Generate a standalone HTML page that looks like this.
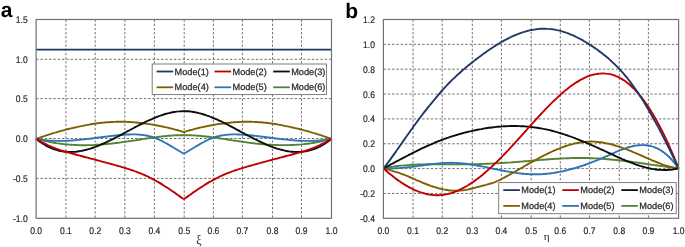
<!DOCTYPE html>
<html><head><meta charset="utf-8"><style>
html,body{margin:0;padding:0;background:#fff;}
body{width:685px;height:247px;overflow:hidden;}
svg{display:block;will-change:transform;}
.t{font-family:"Liberation Sans",sans-serif;font-size:9px;fill:#262626;stroke:#262626;stroke-width:0.2px;}
.tk{font-size:9.6px;text-rendering:geometricPrecision;stroke-width:0.18px;}
.lt{fill:#2a2a2a;stroke:#2a2a2a;font-size:9.2px;text-rendering:geometricPrecision;stroke-width:0.25px;}
.g{stroke:#6a6a6a;stroke-width:0.95;fill:none;}
.ax{stroke:#707070;stroke-width:1.2;fill:none;}
.lg{stroke:#707070;stroke-width:0.9;fill:#fff;}
.pl{font-family:"Liberation Sans",sans-serif;font-weight:bold;font-size:21px;fill:#000;text-rendering:geometricPrecision;}
.gr{font-family:"Liberation Serif",serif;font-size:12px;fill:#1a1a1a;}
.gr2{font-family:"Liberation Serif",serif;font-size:11.2px;fill:#1a1a1a;}
</style></head><body>
<svg width="685" height="247" viewBox="0 0 685 247">
<rect width="685" height="247" fill="#fff"/>
<text x="0.7" y="17.2" class="pl">a</text>
<text x="345.3" y="17.5" class="pl">b</text>
<line x1="36.10" y1="59.34" x2="331.50" y2="59.34" class="g" stroke-dasharray="2.50 1.807"/>
<line x1="36.10" y1="98.60" x2="331.50" y2="98.60" class="g" stroke-dasharray="2.50 1.807"/>
<line x1="36.10" y1="138.50" x2="331.50" y2="138.50" class="g" stroke-dasharray="2.50 1.807"/>
<line x1="36.10" y1="178.40" x2="331.50" y2="178.40" class="g" stroke-dasharray="2.50 1.807"/>
<line x1="65.90" y1="19.50" x2="65.90" y2="218.30" class="g" stroke-dasharray="2.30 1.868"/>
<line x1="95.20" y1="19.50" x2="95.20" y2="218.30" class="g" stroke-dasharray="2.30 1.868"/>
<line x1="124.85" y1="19.50" x2="124.85" y2="218.30" class="g" stroke-dasharray="2.30 1.868"/>
<line x1="154.40" y1="19.50" x2="154.40" y2="218.30" class="g" stroke-dasharray="2.30 1.868"/>
<line x1="184.20" y1="19.50" x2="184.20" y2="218.30" class="g" stroke-dasharray="2.30 1.868"/>
<line x1="213.40" y1="19.50" x2="213.40" y2="218.30" class="g" stroke-dasharray="2.30 1.868"/>
<line x1="242.40" y1="19.50" x2="242.40" y2="218.30" class="g" stroke-dasharray="2.30 1.868"/>
<line x1="272.50" y1="19.50" x2="272.50" y2="218.30" class="g" stroke-dasharray="2.30 1.868"/>
<line x1="301.50" y1="19.50" x2="301.50" y2="218.30" class="g" stroke-dasharray="2.30 1.868"/>
<path d="M36.10 49.6L331.50 49.6" stroke="#203864" stroke-width="1.90" fill="none" stroke-linejoin="round"/>
<path d="M36.1 138.7C36.5 138.9 37.8 139.2 38.6 139.4C39.4 139.6 40.3 139.9 41.1 140.1C41.9 140.3 42.8 140.5 43.6 140.7C44.4 140.8 45.3 141.0 46.1 141.2C46.9 141.4 47.8 141.6 48.6 141.7C49.5 141.9 50.3 142.1 51.1 142.2C52.0 142.4 52.8 142.5 53.6 142.7C54.5 142.8 55.3 142.9 56.1 143.1C57.0 143.2 57.8 143.3 58.6 143.4C59.5 143.6 60.3 143.7 61.1 143.8C62.0 143.9 62.8 144.0 63.6 144.1C64.5 144.2 65.3 144.2 66.1 144.3C67.0 144.4 67.8 144.5 68.6 144.6C69.5 144.6 70.3 144.7 71.1 144.7C72.0 144.8 72.8 144.9 73.7 144.9C74.5 144.9 75.3 145.0 76.2 145.0C77.0 145.1 77.8 145.1 78.7 145.1C79.5 145.1 80.3 145.1 81.2 145.2C82.0 145.2 82.8 145.2 83.7 145.2C84.5 145.2 85.3 145.2 86.2 145.2C87.0 145.2 87.8 145.1 88.7 145.1C89.5 145.1 90.3 145.1 91.2 145.1C92.0 145.0 92.8 145.0 93.7 145.0C94.5 144.9 95.3 144.9 96.2 144.8C97.0 144.8 97.9 144.7 98.7 144.7C99.5 144.6 100.4 144.6 101.2 144.5C102.0 144.4 102.9 144.4 103.7 144.3C104.5 144.2 105.4 144.2 106.2 144.1C107.0 144.0 107.9 143.9 108.7 143.8C109.5 143.8 110.4 143.7 111.2 143.6C112.0 143.5 112.9 143.4 113.7 143.3C114.5 143.2 115.4 143.1 116.2 143.0C117.0 142.9 117.9 142.8 118.7 142.7C119.5 142.5 120.4 142.4 121.2 142.3C122.0 142.2 122.9 142.1 123.7 142.0C124.6 141.8 125.4 141.7 126.2 141.6C127.1 141.5 127.9 141.4 128.7 141.2C129.6 141.1 130.4 141.0 131.2 140.8C132.1 140.7 132.9 140.6 133.7 140.5C134.6 140.3 135.4 140.2 136.2 140.1C137.1 139.9 137.9 139.8 138.7 139.7C139.6 139.6 140.4 139.4 141.2 139.3C142.1 139.2 142.9 139.0 143.7 138.9C144.6 138.8 145.4 138.7 146.2 138.5C147.1 138.4 147.9 138.3 148.8 138.2C149.6 138.1 150.4 137.9 151.3 137.8C152.1 137.7 152.9 137.6 153.8 137.5C154.6 137.4 155.4 137.3 156.3 137.1C157.1 137.0 157.9 136.9 158.8 136.8C159.6 136.7 160.4 136.6 161.3 136.5C162.1 136.4 162.9 136.4 163.8 136.3C164.6 136.2 165.4 136.1 166.3 136.0C167.1 135.9 167.9 135.9 168.8 135.8C169.6 135.7 170.4 135.7 171.3 135.6C172.1 135.5 173.0 135.5 173.8 135.4C174.6 135.4 175.5 135.4 176.3 135.3C177.1 135.3 178.0 135.2 178.8 135.2C179.6 135.2 180.5 135.2 181.3 135.2C182.1 135.1 183.0 135.1 183.8 135.1C184.6 135.1 185.5 135.1 186.3 135.2C187.1 135.2 188.0 135.2 188.8 135.2C189.6 135.2 190.5 135.3 191.3 135.3C192.1 135.3 193.0 135.4 193.8 135.4C194.6 135.5 195.5 135.5 196.3 135.6C197.2 135.7 198.0 135.7 198.8 135.8C199.7 135.9 200.5 135.9 201.3 136.0C202.2 136.1 203.0 136.2 203.8 136.3C204.7 136.4 205.5 136.4 206.3 136.5C207.2 136.6 208.0 136.7 208.8 136.8C209.7 136.9 210.5 137.0 211.3 137.1C212.2 137.3 213.0 137.4 213.8 137.5C214.7 137.6 215.5 137.7 216.3 137.8C217.2 137.9 218.0 138.1 218.8 138.2C219.7 138.3 220.5 138.4 221.4 138.6C222.2 138.7 223.0 138.8 223.9 138.9C224.7 139.1 225.5 139.2 226.4 139.3C227.2 139.4 228.0 139.6 228.9 139.7C229.7 139.8 230.5 140.0 231.4 140.1C232.2 140.2 233.0 140.3 233.9 140.5C234.7 140.6 235.5 140.7 236.4 140.9C237.2 141.0 238.0 141.1 238.9 141.2C239.7 141.4 240.5 141.5 241.4 141.6C242.2 141.7 243.0 141.8 243.9 142.0C244.7 142.1 245.6 142.2 246.4 142.3C247.2 142.4 248.1 142.5 248.9 142.7C249.7 142.8 250.6 142.9 251.4 143.0C252.2 143.1 253.1 143.2 253.9 143.3C254.7 143.4 255.6 143.5 256.4 143.6C257.2 143.7 258.1 143.7 258.9 143.8C259.7 143.9 260.6 144.0 261.4 144.1C262.2 144.1 263.1 144.2 263.9 144.3C264.7 144.4 265.6 144.4 266.4 144.5C267.2 144.5 268.1 144.6 268.9 144.7C269.7 144.7 270.6 144.8 271.4 144.8C272.3 144.8 273.1 144.9 273.9 144.9C274.8 145.0 275.6 145.0 276.4 145.0C277.3 145.1 278.1 145.1 278.9 145.1C279.8 145.1 280.6 145.1 281.4 145.1C282.3 145.1 283.1 145.1 283.9 145.1C284.8 145.1 285.6 145.1 286.4 145.1C287.3 145.1 288.1 145.1 288.9 145.1C289.8 145.1 290.6 145.0 291.4 145.0C292.3 145.0 293.1 144.9 293.9 144.9C294.8 144.9 295.6 144.8 296.5 144.7C297.3 144.7 298.1 144.6 299.0 144.6C299.8 144.5 300.6 144.4 301.5 144.4C302.3 144.3 303.1 144.2 304.0 144.1C304.8 144.0 305.6 143.9 306.5 143.8C307.3 143.7 308.1 143.6 309.0 143.5C309.8 143.4 310.6 143.3 311.5 143.1C312.3 143.0 313.1 142.9 314.0 142.7C314.8 142.6 315.6 142.4 316.5 142.3C317.3 142.1 318.1 142.0 319.0 141.8C319.8 141.6 320.7 141.5 321.5 141.3C322.3 141.1 323.2 140.9 324.0 140.7C324.8 140.5 325.7 140.3 326.5 140.1C327.3 139.9 328.2 139.7 329.0 139.4C329.8 139.2 331.1 138.9 331.5 138.7" stroke="#548235" stroke-width="1.90" fill="none" stroke-linejoin="round"/>
<path d="M36.1 138.8C36.5 138.8 37.8 139.1 38.6 139.2C39.4 139.4 40.3 139.5 41.1 139.6C41.9 139.8 42.8 139.9 43.6 140.0C44.4 140.1 45.3 140.2 46.1 140.3C46.9 140.4 47.8 140.5 48.6 140.5C49.5 140.6 50.3 140.6 51.1 140.7C52.0 140.8 52.8 140.8 53.6 140.8C54.5 140.9 55.3 140.9 56.1 140.9C57.0 140.9 57.8 140.9 58.6 140.9C59.5 140.9 60.3 140.9 61.1 140.9C62.0 140.9 62.8 140.9 63.6 140.9C64.5 140.9 65.3 140.8 66.1 140.8C67.0 140.8 67.8 140.7 68.6 140.7C69.5 140.6 70.3 140.6 71.1 140.5C72.0 140.5 72.8 140.4 73.7 140.3C74.5 140.3 75.3 140.2 76.2 140.1C77.0 140.1 77.8 140.0 78.7 139.9C79.5 139.8 80.3 139.7 81.2 139.6C82.0 139.6 82.8 139.5 83.7 139.4C84.5 139.3 85.3 139.2 86.2 139.1C87.0 139.0 87.8 138.9 88.7 138.8C89.5 138.7 90.3 138.6 91.2 138.5C92.0 138.4 92.8 138.3 93.7 138.2C94.5 138.1 95.3 137.9 96.2 137.8C97.0 137.7 97.9 137.6 98.7 137.5C99.5 137.4 100.4 137.3 101.2 137.2C102.0 137.1 102.9 137.0 103.7 136.9C104.5 136.8 105.4 136.7 106.2 136.6C107.0 136.5 107.9 136.4 108.7 136.3C109.5 136.2 110.4 136.1 111.2 136.0C112.0 135.9 112.9 135.8 113.7 135.7C114.5 135.6 115.4 135.5 116.2 135.4C117.0 135.3 117.9 135.3 118.7 135.2C119.5 135.1 120.4 135.0 121.2 135.0C122.0 134.9 122.9 134.8 123.7 134.8C124.6 134.7 125.4 134.7 126.2 134.6C127.1 134.6 127.9 134.5 128.7 134.5C129.6 134.5 130.4 134.4 131.2 134.4C132.1 134.4 132.9 134.4 133.7 134.4C134.6 134.4 135.4 134.4 136.2 134.4C137.1 134.5 137.9 134.5 138.7 134.6C139.6 134.6 140.4 134.7 141.2 134.8C142.1 134.9 142.9 135.0 143.7 135.1C144.6 135.2 145.4 135.4 146.2 135.5C147.1 135.7 147.9 135.9 148.8 136.1C149.6 136.3 150.4 136.5 151.3 136.7C152.1 137.0 152.9 137.3 153.8 137.5C154.6 137.8 155.4 138.2 156.3 138.5C157.1 138.8 157.9 139.2 158.8 139.5C159.6 139.9 160.4 140.3 161.3 140.7C162.1 141.1 162.9 141.5 163.8 142.0C164.6 142.4 165.4 142.9 166.3 143.3C167.1 143.8 167.9 144.3 168.8 144.8C169.6 145.3 170.4 145.8 171.3 146.3C172.1 146.8 173.0 147.3 173.8 147.8C174.6 148.3 175.5 148.8 176.3 149.3C177.1 149.8 178.0 150.3 178.8 150.8C179.6 151.3 180.5 151.8 181.3 152.3C182.1 152.8 183.4 153.5 183.8 153.7 M183.8 153.7C184.2 153.5 185.5 152.8 186.3 152.3C187.1 151.8 188.0 151.3 188.8 150.8C189.6 150.3 190.5 149.8 191.3 149.3C192.1 148.8 193.0 148.3 193.8 147.8C194.6 147.3 195.5 146.8 196.3 146.3C197.2 145.8 198.0 145.3 198.8 144.8C199.7 144.3 200.5 143.8 201.3 143.3C202.2 142.9 203.0 142.4 203.8 142.0C204.7 141.5 205.5 141.1 206.3 140.7C207.2 140.3 208.0 139.9 208.8 139.5C209.7 139.2 210.5 138.8 211.3 138.5C212.2 138.2 213.0 137.8 213.8 137.5C214.7 137.3 215.5 137.0 216.3 136.7C217.2 136.5 218.0 136.3 218.8 136.1C219.7 135.9 220.5 135.7 221.4 135.5C222.2 135.4 223.0 135.2 223.9 135.1C224.7 135.0 225.5 134.9 226.4 134.8C227.2 134.7 228.0 134.6 228.9 134.6C229.7 134.5 230.5 134.5 231.4 134.4C232.2 134.4 233.0 134.4 233.9 134.4C234.7 134.4 235.5 134.4 236.4 134.4C237.2 134.4 238.0 134.5 238.9 134.5C239.7 134.5 240.5 134.6 241.4 134.6C242.2 134.7 243.0 134.7 243.9 134.8C244.7 134.8 245.6 134.9 246.4 135.0C247.2 135.0 248.1 135.1 248.9 135.2C249.7 135.3 250.6 135.3 251.4 135.4C252.2 135.5 253.1 135.6 253.9 135.7C254.7 135.8 255.6 135.9 256.4 136.0C257.2 136.1 258.1 136.2 258.9 136.3C259.7 136.4 260.6 136.5 261.4 136.6C262.2 136.7 263.1 136.8 263.9 136.9C264.7 137.0 265.6 137.1 266.4 137.2C267.2 137.3 268.1 137.4 268.9 137.5C269.7 137.6 270.6 137.7 271.4 137.8C272.3 137.9 273.1 138.1 273.9 138.2C274.8 138.3 275.6 138.4 276.4 138.5C277.3 138.6 278.1 138.7 278.9 138.8C279.8 138.9 280.6 139.0 281.4 139.1C282.3 139.2 283.1 139.3 283.9 139.4C284.8 139.5 285.6 139.6 286.4 139.6C287.3 139.7 288.1 139.8 288.9 139.9C289.8 140.0 290.6 140.1 291.4 140.1C292.3 140.2 293.1 140.3 293.9 140.3C294.8 140.4 295.6 140.5 296.5 140.5C297.3 140.6 298.1 140.6 299.0 140.7C299.8 140.7 300.6 140.8 301.5 140.8C302.3 140.8 303.1 140.9 304.0 140.9C304.8 140.9 305.6 140.9 306.5 140.9C307.3 140.9 308.1 140.9 309.0 140.9C309.8 140.9 310.6 140.9 311.5 140.9C312.3 140.9 313.1 140.9 314.0 140.8C314.8 140.8 315.6 140.8 316.5 140.7C317.3 140.6 318.1 140.6 319.0 140.5C319.8 140.5 320.7 140.4 321.5 140.3C322.3 140.2 323.2 140.1 324.0 140.0C324.8 139.9 325.7 139.8 326.5 139.6C327.3 139.5 328.2 139.4 329.0 139.2C329.8 139.1 331.1 138.8 331.5 138.8" stroke="#2E75B6" stroke-width="1.90" fill="none" stroke-linejoin="round"/>
<path d="M36.1 138.9C36.5 138.7 37.8 138.3 38.6 138.0C39.4 137.7 40.3 137.4 41.1 137.1C41.9 136.8 42.8 136.5 43.6 136.3C44.4 136.0 45.3 135.7 46.1 135.4C46.9 135.2 47.8 134.9 48.6 134.6C49.5 134.4 50.3 134.1 51.1 133.8C52.0 133.6 52.8 133.3 53.6 133.1C54.5 132.8 55.3 132.6 56.1 132.4C57.0 132.1 57.8 131.9 58.6 131.6C59.5 131.4 60.3 131.2 61.1 130.9C62.0 130.7 62.8 130.5 63.6 130.3C64.5 130.1 65.3 129.8 66.1 129.6C67.0 129.4 67.8 129.2 68.6 129.0C69.5 128.8 70.3 128.6 71.1 128.4C72.0 128.2 72.8 128.0 73.7 127.8C74.5 127.6 75.3 127.4 76.2 127.2C77.0 127.0 77.8 126.8 78.7 126.6C79.5 126.4 80.3 126.3 81.2 126.1C82.0 125.9 82.8 125.8 83.7 125.6C84.5 125.4 85.3 125.3 86.2 125.1C87.0 125.0 87.8 124.8 88.7 124.7C89.5 124.5 90.3 124.4 91.2 124.2C92.0 124.1 92.8 124.0 93.7 123.8C94.5 123.7 95.3 123.6 96.2 123.5C97.0 123.4 97.9 123.2 98.7 123.1C99.5 123.0 100.4 122.9 101.2 122.8C102.0 122.7 102.9 122.7 103.7 122.6C104.5 122.5 105.4 122.4 106.2 122.3C107.0 122.3 107.9 122.2 108.7 122.2C109.5 122.1 110.4 122.0 111.2 122.0C112.0 122.0 112.9 121.9 113.7 121.9C114.5 121.9 115.4 121.8 116.2 121.8C117.0 121.8 117.9 121.8 118.7 121.8C119.5 121.8 120.4 121.8 121.2 121.8C122.0 121.8 122.9 121.8 123.7 121.8C124.6 121.8 125.4 121.8 126.2 121.9C127.1 121.9 127.9 121.9 128.7 122.0C129.6 122.0 130.4 122.1 131.2 122.1C132.1 122.2 132.9 122.2 133.7 122.3C134.6 122.4 135.4 122.4 136.2 122.5C137.1 122.6 137.9 122.7 138.7 122.7C139.6 122.8 140.4 122.9 141.2 123.0C142.1 123.1 142.9 123.2 143.7 123.3C144.6 123.4 145.4 123.5 146.2 123.7C147.1 123.8 147.9 123.9 148.8 124.0C149.6 124.1 150.4 124.3 151.3 124.4C152.1 124.5 152.9 124.7 153.8 124.8C154.6 125.0 155.4 125.1 156.3 125.3C157.1 125.4 157.9 125.6 158.8 125.8C159.6 125.9 160.4 126.1 161.3 126.3C162.1 126.5 162.9 126.6 163.8 126.8C164.6 127.0 165.4 127.2 166.3 127.4C167.1 127.6 167.9 127.8 168.8 128.0C169.6 128.2 170.4 128.4 171.3 128.6C172.1 128.8 173.0 129.0 173.8 129.2C174.6 129.4 175.5 129.7 176.3 129.9C177.1 130.1 178.0 130.3 178.8 130.6C179.6 130.8 180.5 131.0 181.3 131.3C182.1 131.5 183.4 131.9 183.8 132.0 M183.8 132.0C184.2 131.9 185.5 131.5 186.3 131.3C187.1 131.0 188.0 130.8 188.8 130.6C189.6 130.3 190.5 130.1 191.3 129.9C192.1 129.7 193.0 129.4 193.8 129.2C194.6 129.0 195.5 128.8 196.3 128.6C197.2 128.4 198.0 128.2 198.8 128.0C199.7 127.8 200.5 127.6 201.3 127.4C202.2 127.2 203.0 127.0 203.8 126.8C204.7 126.6 205.5 126.5 206.3 126.3C207.2 126.1 208.0 125.9 208.8 125.8C209.7 125.6 210.5 125.4 211.3 125.3C212.2 125.1 213.0 125.0 213.8 124.8C214.7 124.7 215.5 124.5 216.3 124.4C217.2 124.3 218.0 124.1 218.8 124.0C219.7 123.9 220.5 123.8 221.4 123.7C222.2 123.5 223.0 123.4 223.9 123.3C224.7 123.2 225.5 123.1 226.4 123.0C227.2 122.9 228.0 122.8 228.9 122.7C229.7 122.7 230.5 122.6 231.4 122.5C232.2 122.4 233.0 122.4 233.9 122.3C234.7 122.2 235.5 122.2 236.4 122.1C237.2 122.1 238.0 122.0 238.9 122.0C239.7 121.9 240.5 121.9 241.4 121.9C242.2 121.8 243.0 121.8 243.9 121.8C244.7 121.8 245.6 121.8 246.4 121.8C247.2 121.8 248.1 121.8 248.9 121.8C249.7 121.8 250.6 121.8 251.4 121.8C252.2 121.8 253.1 121.9 253.9 121.9C254.7 121.9 255.6 122.0 256.4 122.0C257.2 122.0 258.1 122.1 258.9 122.2C259.7 122.2 260.6 122.3 261.4 122.3C262.2 122.4 263.1 122.5 263.9 122.6C264.7 122.7 265.6 122.7 266.4 122.8C267.2 122.9 268.1 123.0 268.9 123.1C269.7 123.2 270.6 123.4 271.4 123.5C272.3 123.6 273.1 123.7 273.9 123.8C274.8 124.0 275.6 124.1 276.4 124.2C277.3 124.4 278.1 124.5 278.9 124.7C279.8 124.8 280.6 125.0 281.4 125.1C282.3 125.3 283.1 125.4 283.9 125.6C284.8 125.8 285.6 125.9 286.4 126.1C287.3 126.3 288.1 126.4 288.9 126.6C289.8 126.8 290.6 127.0 291.4 127.2C292.3 127.4 293.1 127.6 293.9 127.8C294.8 128.0 295.6 128.2 296.5 128.4C297.3 128.6 298.1 128.8 299.0 129.0C299.8 129.2 300.6 129.4 301.5 129.6C302.3 129.8 303.1 130.1 304.0 130.3C304.8 130.5 305.6 130.7 306.5 130.9C307.3 131.2 308.1 131.4 309.0 131.6C309.8 131.9 310.6 132.1 311.5 132.4C312.3 132.6 313.1 132.8 314.0 133.1C314.8 133.3 315.6 133.6 316.5 133.8C317.3 134.1 318.1 134.4 319.0 134.6C319.8 134.9 320.7 135.2 321.5 135.4C322.3 135.7 323.2 136.0 324.0 136.3C324.8 136.5 325.7 136.8 326.5 137.1C327.3 137.4 328.2 137.7 329.0 138.0C329.8 138.3 331.1 138.7 331.5 138.9" stroke="#7F6000" stroke-width="1.90" fill="none" stroke-linejoin="round"/>
<path d="M36.1 138.6C36.5 139.0 37.8 140.0 38.6 140.7C39.4 141.3 40.3 141.9 41.1 142.5C41.9 143.1 42.8 143.6 43.6 144.1C44.4 144.7 45.3 145.2 46.1 145.6C46.9 146.1 47.8 146.5 48.6 146.9C49.5 147.3 50.3 147.7 51.1 148.1C52.0 148.4 52.8 148.8 53.6 149.1C54.5 149.4 55.3 149.7 56.1 149.9C57.0 150.2 57.8 150.4 58.6 150.6C59.5 150.8 60.3 151.0 61.1 151.1C62.0 151.3 62.8 151.4 63.6 151.5C64.5 151.6 65.3 151.7 66.1 151.8C67.0 151.9 67.8 151.9 68.6 151.9C69.5 152.0 70.3 152.0 71.1 152.0C72.0 151.9 72.8 151.9 73.7 151.9C74.5 151.8 75.3 151.7 76.2 151.7C77.0 151.6 77.8 151.5 78.7 151.3C79.5 151.2 80.3 151.1 81.2 150.9C82.0 150.8 82.8 150.6 83.7 150.4C84.5 150.2 85.3 150.0 86.2 149.8C87.0 149.6 87.8 149.4 88.7 149.1C89.5 148.9 90.3 148.6 91.2 148.3C92.0 148.1 92.8 147.8 93.7 147.5C94.5 147.2 95.3 146.9 96.2 146.6C97.0 146.3 97.9 145.9 98.7 145.6C99.5 145.3 100.4 144.9 101.2 144.5C102.0 144.2 102.9 143.8 103.7 143.5C104.5 143.1 105.4 142.7 106.2 142.3C107.0 141.9 107.9 141.5 108.7 141.1C109.5 140.7 110.4 140.3 111.2 139.9C112.0 139.5 112.9 139.1 113.7 138.6C114.5 138.2 115.4 137.8 116.2 137.3C117.0 136.9 117.9 136.5 118.7 136.0C119.5 135.6 120.4 135.1 121.2 134.7C122.0 134.3 122.9 133.8 123.7 133.4C124.6 132.9 125.4 132.5 126.2 132.0C127.1 131.6 127.9 131.1 128.7 130.7C129.6 130.2 130.4 129.8 131.2 129.3C132.1 128.9 132.9 128.4 133.7 128.0C134.6 127.5 135.4 127.1 136.2 126.7C137.1 126.2 137.9 125.8 138.7 125.3C139.6 124.9 140.4 124.5 141.2 124.1C142.1 123.6 142.9 123.2 143.7 122.8C144.6 122.4 145.4 122.0 146.2 121.6C147.1 121.2 147.9 120.8 148.8 120.4C149.6 120.0 150.4 119.7 151.3 119.3C152.1 118.9 152.9 118.6 153.8 118.2C154.6 117.9 155.4 117.5 156.3 117.2C157.1 116.9 157.9 116.5 158.8 116.2C159.6 115.9 160.4 115.6 161.3 115.3C162.1 115.0 162.9 114.8 163.8 114.5C164.6 114.2 165.4 114.0 166.3 113.8C167.1 113.5 167.9 113.3 168.8 113.1C169.6 112.9 170.4 112.7 171.3 112.5C172.1 112.3 173.0 112.2 173.8 112.0C174.6 111.9 175.5 111.8 176.3 111.6C177.1 111.5 178.0 111.4 178.8 111.4C179.6 111.3 180.5 111.2 181.3 111.2C182.1 111.1 183.0 111.1 183.8 111.1C184.6 111.1 185.5 111.1 186.3 111.2C187.1 111.2 188.0 111.3 188.8 111.3C189.6 111.4 190.5 111.5 191.3 111.6C192.1 111.7 193.0 111.9 193.8 112.0C194.6 112.1 195.5 112.3 196.3 112.5C197.2 112.7 198.0 112.8 198.8 113.1C199.7 113.3 200.5 113.5 201.3 113.7C202.2 113.9 203.0 114.2 203.8 114.5C204.7 114.7 205.5 115.0 206.3 115.3C207.2 115.6 208.0 115.9 208.8 116.2C209.7 116.5 210.5 116.8 211.3 117.1C212.2 117.5 213.0 117.8 213.8 118.2C214.7 118.5 215.5 118.9 216.3 119.2C217.2 119.6 218.0 120.0 218.8 120.4C219.7 120.8 220.5 121.1 221.4 121.5C222.2 121.9 223.0 122.4 223.9 122.8C224.7 123.2 225.5 123.6 226.4 124.0C227.2 124.4 228.0 124.9 228.9 125.3C229.7 125.7 230.5 126.2 231.4 126.6C232.2 127.0 233.0 127.5 233.9 127.9C234.7 128.4 235.5 128.8 236.4 129.3C237.2 129.7 238.0 130.2 238.9 130.6C239.7 131.1 240.5 131.5 241.4 132.0C242.2 132.4 243.0 132.9 243.9 133.3C244.7 133.8 245.6 134.2 246.4 134.7C247.2 135.1 248.1 135.6 248.9 136.0C249.7 136.4 250.6 136.9 251.4 137.3C252.2 137.8 253.1 138.2 253.9 138.6C254.7 139.0 255.6 139.5 256.4 139.9C257.2 140.3 258.1 140.7 258.9 141.1C259.7 141.5 260.6 141.9 261.4 142.3C262.2 142.7 263.1 143.1 263.9 143.5C264.7 143.8 265.6 144.2 266.4 144.6C267.2 144.9 268.1 145.3 268.9 145.6C269.7 145.9 270.6 146.3 271.4 146.6C272.3 146.9 273.1 147.2 273.9 147.5C274.8 147.8 275.6 148.1 276.4 148.4C277.3 148.6 278.1 148.9 278.9 149.1C279.8 149.4 280.6 149.6 281.4 149.8C282.3 150.0 283.1 150.2 283.9 150.4C284.8 150.6 285.6 150.8 286.4 151.0C287.3 151.1 288.1 151.2 288.9 151.4C289.8 151.5 290.6 151.6 291.4 151.7C292.3 151.8 293.1 151.8 293.9 151.9C294.8 152.0 295.6 152.0 296.5 152.0C297.3 152.0 298.1 152.0 299.0 152.0C299.8 152.0 300.6 151.9 301.5 151.8C302.3 151.8 303.1 151.7 304.0 151.6C304.8 151.5 305.6 151.3 306.5 151.2C307.3 151.0 308.1 150.8 309.0 150.6C309.8 150.4 310.6 150.2 311.5 149.9C312.3 149.7 313.1 149.4 314.0 149.1C314.8 148.8 315.6 148.5 316.5 148.1C317.3 147.8 318.1 147.4 319.0 147.0C319.8 146.6 320.7 146.1 321.5 145.6C322.3 145.2 323.2 144.7 324.0 144.2C324.8 143.6 325.7 143.1 326.5 142.5C327.3 141.9 328.2 141.3 329.0 140.7C329.8 140.0 331.1 139.0 331.5 138.6" stroke="#0d0d0d" stroke-width="1.90" fill="none" stroke-linejoin="round"/>
<path d="M36.1 138.7C36.5 138.9 37.8 139.8 38.6 140.3C39.4 140.8 40.3 141.3 41.1 141.7C41.9 142.2 42.8 142.7 43.6 143.1C44.4 143.5 45.3 143.9 46.1 144.3C46.9 144.8 47.8 145.1 48.6 145.5C49.5 145.9 50.3 146.3 51.1 146.6C52.0 147.0 52.8 147.3 53.6 147.6C54.5 148.0 55.3 148.3 56.1 148.6C57.0 148.9 57.8 149.2 58.6 149.5C59.5 149.8 60.3 150.0 61.1 150.3C62.0 150.6 62.8 150.9 63.6 151.1C64.5 151.4 65.3 151.6 66.1 151.9C67.0 152.1 67.8 152.4 68.6 152.6C69.5 152.9 70.3 153.1 71.1 153.3C72.0 153.6 72.8 153.8 73.7 154.0C74.5 154.3 75.3 154.5 76.2 154.7C77.0 154.9 77.8 155.2 78.7 155.4C79.5 155.6 80.3 155.8 81.2 156.0C82.0 156.3 82.8 156.5 83.7 156.7C84.5 156.9 85.3 157.2 86.2 157.4C87.0 157.6 87.8 157.8 88.7 158.0C89.5 158.2 90.3 158.5 91.2 158.7C92.0 158.9 92.8 159.1 93.7 159.3C94.5 159.6 95.3 159.8 96.2 160.0C97.0 160.2 97.9 160.4 98.7 160.6C99.5 160.9 100.4 161.1 101.2 161.3C102.0 161.5 102.9 161.8 103.7 162.0C104.5 162.2 105.4 162.4 106.2 162.6C107.0 162.9 107.9 163.1 108.7 163.3C109.5 163.5 110.4 163.8 111.2 164.0C112.0 164.2 112.9 164.5 113.7 164.7C114.5 164.9 115.4 165.2 116.2 165.4C117.0 165.6 117.9 165.9 118.7 166.1C119.5 166.3 120.4 166.6 121.2 166.8C122.0 167.1 122.9 167.3 123.7 167.6C124.6 167.8 125.4 168.1 126.2 168.3C127.1 168.6 127.9 168.9 128.7 169.1C129.6 169.4 130.4 169.7 131.2 170.0C132.1 170.2 132.9 170.5 133.7 170.8C134.6 171.1 135.4 171.4 136.2 171.7C137.1 172.0 137.9 172.4 138.7 172.7C139.6 173.0 140.4 173.3 141.2 173.7C142.1 174.0 142.9 174.4 143.7 174.7C144.6 175.1 145.4 175.5 146.2 175.9C147.1 176.2 147.9 176.6 148.8 177.0C149.6 177.4 150.4 177.9 151.3 178.3C152.1 178.7 152.9 179.2 153.8 179.6C154.6 180.1 155.4 180.5 156.3 181.0C157.1 181.5 157.9 181.9 158.8 182.4C159.6 182.9 160.4 183.4 161.3 183.9C162.1 184.4 162.9 184.9 163.8 185.5C164.6 186.0 165.4 186.5 166.3 187.1C167.1 187.6 167.9 188.2 168.8 188.7C169.6 189.3 170.4 189.8 171.3 190.4C172.1 191.0 173.0 191.6 173.8 192.1C174.6 192.7 175.5 193.3 176.3 193.9C177.1 194.5 178.0 195.1 178.8 195.7C179.6 196.3 180.5 196.9 181.3 197.5C182.1 198.1 183.4 199.0 183.8 199.4 M183.8 199.4C184.2 199.0 185.5 198.1 186.3 197.5C187.1 196.9 188.0 196.3 188.8 195.7C189.6 195.1 190.5 194.5 191.3 193.9C192.1 193.3 193.0 192.7 193.8 192.1C194.6 191.6 195.5 191.0 196.3 190.4C197.2 189.8 198.0 189.3 198.8 188.7C199.7 188.2 200.5 187.6 201.3 187.1C202.2 186.5 203.0 186.0 203.8 185.5C204.7 184.9 205.5 184.4 206.3 183.9C207.2 183.4 208.0 182.9 208.8 182.4C209.7 181.9 210.5 181.5 211.3 181.0C212.2 180.5 213.0 180.1 213.8 179.6C214.7 179.2 215.5 178.7 216.3 178.3C217.2 177.9 218.0 177.4 218.8 177.0C219.7 176.6 220.5 176.2 221.4 175.9C222.2 175.5 223.0 175.1 223.9 174.7C224.7 174.4 225.5 174.0 226.4 173.7C227.2 173.3 228.0 173.0 228.9 172.7C229.7 172.4 230.5 172.0 231.4 171.7C232.2 171.4 233.0 171.1 233.9 170.8C234.7 170.5 235.5 170.2 236.4 170.0C237.2 169.7 238.0 169.4 238.9 169.1C239.7 168.9 240.5 168.6 241.4 168.3C242.2 168.1 243.0 167.8 243.9 167.6C244.7 167.3 245.6 167.1 246.4 166.8C247.2 166.6 248.1 166.3 248.9 166.1C249.7 165.9 250.6 165.6 251.4 165.4C252.2 165.2 253.1 164.9 253.9 164.7C254.7 164.5 255.6 164.2 256.4 164.0C257.2 163.8 258.1 163.5 258.9 163.3C259.7 163.1 260.6 162.9 261.4 162.6C262.2 162.4 263.1 162.2 263.9 162.0C264.7 161.8 265.6 161.5 266.4 161.3C267.2 161.1 268.1 160.9 268.9 160.6C269.7 160.4 270.6 160.2 271.4 160.0C272.3 159.8 273.1 159.6 273.9 159.3C274.8 159.1 275.6 158.9 276.4 158.7C277.3 158.5 278.1 158.2 278.9 158.0C279.8 157.8 280.6 157.6 281.4 157.4C282.3 157.2 283.1 156.9 283.9 156.7C284.8 156.5 285.6 156.3 286.4 156.0C287.3 155.8 288.1 155.6 288.9 155.4C289.8 155.2 290.6 154.9 291.4 154.7C292.3 154.5 293.1 154.3 293.9 154.0C294.8 153.8 295.6 153.6 296.5 153.3C297.3 153.1 298.1 152.9 299.0 152.6C299.8 152.4 300.6 152.1 301.5 151.9C302.3 151.6 303.1 151.4 304.0 151.1C304.8 150.9 305.6 150.6 306.5 150.3C307.3 150.0 308.1 149.8 309.0 149.5C309.8 149.2 310.6 148.9 311.5 148.6C312.3 148.3 313.1 148.0 314.0 147.6C314.8 147.3 315.6 147.0 316.5 146.6C317.3 146.3 318.1 145.9 319.0 145.5C319.8 145.1 320.7 144.8 321.5 144.3C322.3 143.9 323.2 143.5 324.0 143.1C324.8 142.7 325.7 142.2 326.5 141.7C327.3 141.3 328.2 140.8 329.0 140.3C329.8 139.8 331.1 138.9 331.5 138.7" stroke="#C00000" stroke-width="1.90" fill="none" stroke-linejoin="round"/>
<rect x="36.10" y="19.50" width="295.40" height="198.80" class="ax"/>
<rect x="152.20" y="64.00" width="174.20" height="30.60" class="lg"/>
<line x1="156.60" y1="71.50" x2="173.20" y2="71.50" stroke="#203864" stroke-width="1.8"/>
<text x="174.60" y="74.60" class="t lt">Mode(1)</text>
<line x1="214.50" y1="71.50" x2="231.10" y2="71.50" stroke="#C00000" stroke-width="1.8"/>
<text x="232.50" y="74.60" class="t lt">Mode(2)</text>
<line x1="273.20" y1="71.50" x2="289.80" y2="71.50" stroke="#0d0d0d" stroke-width="1.8"/>
<text x="291.20" y="74.60" class="t lt">Mode(3)</text>
<line x1="156.60" y1="87.30" x2="173.20" y2="87.30" stroke="#7F6000" stroke-width="1.8"/>
<text x="174.60" y="90.40" class="t lt">Mode(4)</text>
<line x1="214.50" y1="87.30" x2="231.10" y2="87.30" stroke="#2E75B6" stroke-width="1.8"/>
<text x="232.50" y="90.40" class="t lt">Mode(5)</text>
<line x1="273.20" y1="87.30" x2="289.80" y2="87.30" stroke="#548235" stroke-width="1.8"/>
<text x="291.20" y="90.40" class="t lt">Mode(6)</text>
<text transform="translate(27.70 22.95) scale(0.890 1)" class="t tk" text-anchor="end">1.5</text>
<text transform="translate(27.70 62.79) scale(0.890 1)" class="t tk" text-anchor="end">1.0</text>
<text transform="translate(27.70 102.05) scale(0.890 1)" class="t tk" text-anchor="end">0.5</text>
<text transform="translate(27.70 141.95) scale(0.890 1)" class="t tk" text-anchor="end">0.0</text>
<text transform="translate(27.70 181.85) scale(0.890 1)" class="t tk" text-anchor="end">-0.5</text>
<text transform="translate(27.70 221.75) scale(0.890 1)" class="t tk" text-anchor="end">-1.0</text>
<text transform="translate(36.10 233.60) scale(0.890 1)" class="t tk" text-anchor="middle">0.0</text>
<text transform="translate(65.90 233.60) scale(0.890 1)" class="t tk" text-anchor="middle">0.1</text>
<text transform="translate(95.20 233.60) scale(0.890 1)" class="t tk" text-anchor="middle">0.2</text>
<text transform="translate(124.85 233.60) scale(0.890 1)" class="t tk" text-anchor="middle">0.3</text>
<text transform="translate(154.40 233.60) scale(0.890 1)" class="t tk" text-anchor="middle">0.4</text>
<text transform="translate(184.20 233.60) scale(0.890 1)" class="t tk" text-anchor="middle">0.5</text>
<text transform="translate(213.40 233.60) scale(0.890 1)" class="t tk" text-anchor="middle">0.6</text>
<text transform="translate(242.40 233.60) scale(0.890 1)" class="t tk" text-anchor="middle">0.7</text>
<text transform="translate(272.50 233.60) scale(0.890 1)" class="t tk" text-anchor="middle">0.8</text>
<text transform="translate(301.50 233.60) scale(0.890 1)" class="t tk" text-anchor="middle">0.9</text>
<text transform="translate(331.50 233.60) scale(0.890 1)" class="t tk" text-anchor="middle">1.0</text>
<line x1="383.40" y1="44.35" x2="678.60" y2="44.35" class="g" stroke-dasharray="2.50 1.804"/>
<line x1="383.40" y1="69.20" x2="678.60" y2="69.20" class="g" stroke-dasharray="2.50 1.804"/>
<line x1="383.40" y1="94.05" x2="678.60" y2="94.05" class="g" stroke-dasharray="2.50 1.804"/>
<line x1="383.40" y1="118.90" x2="678.60" y2="118.90" class="g" stroke-dasharray="2.50 1.804"/>
<line x1="383.40" y1="143.75" x2="678.60" y2="143.75" class="g" stroke-dasharray="2.50 1.804"/>
<line x1="383.40" y1="168.60" x2="678.60" y2="168.60" class="g" stroke-dasharray="2.50 1.804"/>
<line x1="383.40" y1="193.45" x2="678.60" y2="193.45" class="g" stroke-dasharray="2.50 1.804"/>
<line x1="413.00" y1="19.50" x2="413.00" y2="218.30" class="g" stroke-dasharray="2.30 1.868"/>
<line x1="442.20" y1="19.50" x2="442.20" y2="218.30" class="g" stroke-dasharray="2.30 1.868"/>
<line x1="472.30" y1="19.50" x2="472.30" y2="218.30" class="g" stroke-dasharray="2.30 1.868"/>
<line x1="501.40" y1="19.50" x2="501.40" y2="218.30" class="g" stroke-dasharray="2.30 1.868"/>
<line x1="531.20" y1="19.50" x2="531.20" y2="218.30" class="g" stroke-dasharray="2.30 1.868"/>
<line x1="560.30" y1="19.50" x2="560.30" y2="218.30" class="g" stroke-dasharray="2.30 1.868"/>
<line x1="589.45" y1="19.50" x2="589.45" y2="218.30" class="g" stroke-dasharray="2.30 1.868"/>
<line x1="619.30" y1="19.50" x2="619.30" y2="218.30" class="g" stroke-dasharray="2.30 1.868"/>
<line x1="648.40" y1="19.50" x2="648.40" y2="218.30" class="g" stroke-dasharray="2.30 1.868"/>
<path d="M383.4 168.4C383.8 168.3 385.1 168.1 385.9 167.9C386.7 167.7 387.6 167.6 388.4 167.4C389.2 167.3 390.1 167.1 390.9 167.0C391.7 166.8 392.6 166.7 393.4 166.6C394.2 166.4 395.1 166.3 395.9 166.2C396.7 166.1 397.6 166.0 398.4 165.9C399.2 165.8 400.1 165.7 400.9 165.6C401.7 165.5 402.6 165.4 403.4 165.4C404.2 165.3 405.1 165.2 405.9 165.2C406.7 165.1 407.6 165.0 408.4 165.0C409.3 164.9 410.1 164.9 410.9 164.8C411.8 164.8 412.6 164.7 413.4 164.7C414.3 164.6 415.1 164.6 415.9 164.6C416.8 164.5 417.6 164.5 418.4 164.5C419.3 164.5 420.1 164.4 420.9 164.4C421.8 164.4 422.6 164.4 423.4 164.4C424.3 164.4 425.1 164.3 425.9 164.3C426.8 164.3 427.6 164.3 428.4 164.3C429.3 164.3 430.1 164.3 430.9 164.3C431.8 164.3 432.6 164.3 433.4 164.3C434.3 164.3 435.1 164.3 435.9 164.3C436.8 164.3 437.6 164.3 438.4 164.3C439.3 164.3 440.1 164.4 440.9 164.4C441.8 164.4 442.6 164.4 443.4 164.4C444.3 164.4 445.1 164.4 445.9 164.4C446.8 164.4 447.6 164.4 448.4 164.4C449.3 164.4 450.1 164.4 450.9 164.4C451.8 164.4 452.6 164.4 453.4 164.4C454.3 164.4 455.1 164.4 455.9 164.4C456.8 164.4 457.6 164.4 458.5 164.4C459.3 164.4 460.1 164.4 461.0 164.4C461.8 164.4 462.6 164.4 463.5 164.4C464.3 164.4 465.1 164.4 466.0 164.4C466.8 164.3 467.6 164.3 468.5 164.3C469.3 164.3 470.1 164.3 471.0 164.3C471.8 164.2 472.6 164.2 473.5 164.2C474.3 164.2 475.1 164.2 476.0 164.1C476.8 164.1 477.6 164.1 478.5 164.1C479.3 164.0 480.1 164.0 481.0 164.0C481.8 164.0 482.6 163.9 483.5 163.9C484.3 163.9 485.1 163.8 486.0 163.8C486.8 163.8 487.6 163.7 488.5 163.7C489.3 163.7 490.1 163.6 491.0 163.6C491.8 163.5 492.6 163.5 493.5 163.5C494.3 163.4 495.1 163.4 496.0 163.3C496.8 163.3 497.6 163.2 498.5 163.2C499.3 163.1 500.1 163.1 501.0 163.0C501.8 163.0 502.6 162.9 503.5 162.9C504.3 162.8 505.1 162.8 506.0 162.7C506.8 162.7 507.7 162.6 508.5 162.6C509.3 162.5 510.2 162.4 511.0 162.4C511.8 162.3 512.7 162.3 513.5 162.2C514.3 162.1 515.2 162.1 516.0 162.0C516.8 161.9 517.7 161.9 518.5 161.8C519.3 161.7 520.2 161.7 521.0 161.6C521.8 161.5 522.7 161.5 523.5 161.4C524.3 161.3 525.2 161.3 526.0 161.2C526.8 161.1 527.7 161.0 528.5 161.0C529.3 160.9 530.2 160.8 531.0 160.8C531.8 160.7 532.7 160.6 533.5 160.5C534.3 160.5 535.2 160.4 536.0 160.3C536.8 160.3 537.7 160.2 538.5 160.1C539.3 160.1 540.2 160.0 541.0 159.9C541.8 159.8 542.7 159.8 543.5 159.7C544.3 159.6 545.2 159.6 546.0 159.5C546.8 159.5 547.7 159.4 548.5 159.3C549.3 159.3 550.2 159.2 551.0 159.1C551.8 159.1 552.7 159.0 553.5 159.0C554.3 158.9 555.2 158.9 556.0 158.8C556.9 158.8 557.7 158.7 558.5 158.7C559.4 158.6 560.2 158.6 561.0 158.5C561.9 158.5 562.7 158.4 563.5 158.4C564.4 158.3 565.2 158.3 566.0 158.3C566.9 158.2 567.7 158.2 568.5 158.2C569.4 158.1 570.2 158.1 571.0 158.1C571.9 158.1 572.7 158.0 573.5 158.0C574.4 158.0 575.2 158.0 576.0 158.0C576.9 158.0 577.7 158.0 578.5 158.0C579.4 158.0 580.2 158.0 581.0 158.0C581.9 158.0 582.7 158.0 583.5 158.0C584.4 158.0 585.2 158.0 586.0 158.0C586.9 158.0 587.7 158.1 588.5 158.1C589.4 158.1 590.2 158.1 591.0 158.2C591.9 158.2 592.7 158.2 593.5 158.3C594.4 158.3 595.2 158.4 596.0 158.4C596.9 158.5 597.7 158.5 598.5 158.5C599.4 158.6 600.2 158.7 601.0 158.7C601.9 158.8 602.7 158.8 603.5 158.9C604.4 159.0 605.2 159.0 606.1 159.1C606.9 159.2 607.7 159.2 608.6 159.3C609.4 159.4 610.2 159.5 611.1 159.5C611.9 159.6 612.7 159.7 613.6 159.8C614.4 159.9 615.2 159.9 616.1 160.0C616.9 160.1 617.7 160.2 618.6 160.3C619.4 160.4 620.2 160.5 621.1 160.6C621.9 160.7 622.7 160.8 623.6 160.9C624.4 161.0 625.2 161.1 626.1 161.2C626.9 161.3 627.7 161.4 628.6 161.5C629.4 161.6 630.2 161.7 631.1 161.8C631.9 161.9 632.7 162.0 633.6 162.1C634.4 162.2 635.2 162.3 636.1 162.4C636.9 162.6 637.7 162.7 638.6 162.8C639.4 162.9 640.2 163.0 641.1 163.1C641.9 163.2 642.7 163.4 643.6 163.5C644.4 163.6 645.2 163.7 646.1 163.8C646.9 164.0 647.7 164.1 648.6 164.2C649.4 164.3 650.2 164.4 651.1 164.6C651.9 164.7 652.7 164.8 653.6 164.9C654.4 165.0 655.3 165.2 656.1 165.3C656.9 165.4 657.8 165.5 658.6 165.6C659.4 165.8 660.3 165.9 661.1 166.0C661.9 166.1 662.8 166.2 663.6 166.3C664.4 166.5 665.3 166.6 666.1 166.7C666.9 166.8 667.8 166.9 668.6 167.1C669.4 167.2 670.3 167.3 671.1 167.4C671.9 167.5 672.8 167.6 673.6 167.7C674.4 167.9 675.3 168.0 676.1 168.1C676.9 168.2 678.2 168.4 678.6 168.4" stroke="#548235" stroke-width="1.90" fill="none" stroke-linejoin="round"/>
<path d="M383.4 168.4C383.8 168.4 385.1 168.5 385.9 168.5C386.7 168.5 387.6 168.5 388.4 168.5C389.2 168.5 390.1 168.5 390.9 168.5C391.7 168.5 392.6 168.5 393.4 168.4C394.2 168.4 395.1 168.3 395.9 168.3C396.7 168.3 397.6 168.2 398.4 168.1C399.2 168.1 400.1 168.0 400.9 167.9C401.7 167.9 402.6 167.8 403.4 167.7C404.2 167.6 405.1 167.5 405.9 167.4C406.7 167.4 407.6 167.3 408.4 167.2C409.3 167.1 410.1 167.0 410.9 166.8C411.8 166.7 412.6 166.6 413.4 166.5C414.3 166.4 415.1 166.3 415.9 166.2C416.8 166.1 417.6 166.0 418.4 165.9C419.3 165.7 420.1 165.6 420.9 165.5C421.8 165.4 422.6 165.3 423.4 165.2C424.3 165.1 425.1 165.0 425.9 164.8C426.8 164.7 427.6 164.6 428.4 164.5C429.3 164.4 430.1 164.3 430.9 164.2C431.8 164.1 432.6 164.0 433.4 163.9C434.3 163.8 435.1 163.7 435.9 163.7C436.8 163.6 437.6 163.5 438.4 163.4C439.3 163.4 440.1 163.3 440.9 163.2C441.8 163.2 442.6 163.1 443.4 163.1C444.3 163.0 445.1 163.0 445.9 162.9C446.8 162.9 447.6 162.9 448.4 162.9C449.3 162.8 450.1 162.8 450.9 162.8C451.8 162.8 452.6 162.8 453.4 162.9C454.3 162.9 455.1 162.9 455.9 162.9C456.8 163.0 457.6 163.0 458.5 163.1C459.3 163.1 460.1 163.2 461.0 163.3C461.8 163.3 462.6 163.4 463.5 163.5C464.3 163.6 465.1 163.7 466.0 163.8C466.8 163.9 467.6 164.0 468.5 164.1C469.3 164.2 470.1 164.3 471.0 164.5C471.8 164.6 472.6 164.7 473.5 164.8C474.3 165.0 475.1 165.1 476.0 165.3C476.8 165.4 477.6 165.5 478.5 165.7C479.3 165.9 480.1 166.0 481.0 166.2C481.8 166.3 482.6 166.5 483.5 166.6C484.3 166.8 485.1 167.0 486.0 167.1C486.8 167.3 487.6 167.5 488.5 167.6C489.3 167.8 490.1 168.0 491.0 168.2C491.8 168.3 492.6 168.5 493.5 168.7C494.3 168.8 495.1 169.0 496.0 169.2C496.8 169.4 497.6 169.5 498.5 169.7C499.3 169.9 500.1 170.0 501.0 170.2C501.8 170.4 502.6 170.5 503.5 170.7C504.3 170.8 505.1 171.0 506.0 171.2C506.8 171.3 507.7 171.5 508.5 171.6C509.3 171.8 510.2 171.9 511.0 172.0C511.8 172.2 512.7 172.3 513.5 172.5C514.3 172.6 515.2 172.7 516.0 172.8C516.8 173.0 517.7 173.1 518.5 173.2C519.3 173.3 520.2 173.4 521.0 173.5C521.8 173.6 522.7 173.7 523.5 173.7C524.3 173.8 525.2 173.9 526.0 174.0C526.8 174.0 527.7 174.1 528.5 174.1C529.3 174.2 530.2 174.2 531.0 174.3C531.8 174.3 532.7 174.3 533.5 174.3C534.3 174.3 535.2 174.3 536.0 174.3C536.8 174.3 537.7 174.3 538.5 174.3C539.3 174.3 540.2 174.2 541.0 174.2C541.8 174.1 542.7 174.1 543.5 174.0C544.3 174.0 545.2 173.9 546.0 173.8C546.8 173.8 547.7 173.7 548.5 173.6C549.3 173.5 550.2 173.4 551.0 173.3C551.8 173.2 552.7 173.1 553.5 172.9C554.3 172.8 555.2 172.7 556.0 172.5C556.9 172.4 557.7 172.2 558.5 172.1C559.4 171.9 560.2 171.8 561.0 171.6C561.9 171.4 562.7 171.3 563.5 171.1C564.4 170.9 565.2 170.7 566.0 170.5C566.9 170.3 567.7 170.1 568.5 169.9C569.4 169.7 570.2 169.5 571.0 169.2C571.9 169.0 572.7 168.8 573.5 168.5C574.4 168.3 575.2 168.1 576.0 167.8C576.9 167.6 577.7 167.3 578.5 167.0C579.4 166.8 580.2 166.5 581.0 166.2C581.9 166.0 582.7 165.7 583.5 165.4C584.4 165.1 585.2 164.8 586.0 164.5C586.9 164.2 587.7 163.9 588.5 163.6C589.4 163.3 590.2 163.0 591.0 162.7C591.9 162.3 592.7 162.0 593.5 161.7C594.4 161.4 595.2 161.0 596.0 160.7C596.9 160.3 597.7 160.0 598.5 159.6C599.4 159.3 600.2 158.9 601.0 158.6C601.9 158.2 602.7 157.9 603.5 157.5C604.4 157.1 605.2 156.8 606.1 156.4C606.9 156.0 607.7 155.6 608.6 155.3C609.4 154.9 610.2 154.5 611.1 154.1C611.9 153.8 612.7 153.4 613.6 153.0C614.4 152.7 615.2 152.3 616.1 151.9C616.9 151.6 617.7 151.2 618.6 150.9C619.4 150.5 620.2 150.2 621.1 149.9C621.9 149.6 622.7 149.3 623.6 149.0C624.4 148.6 625.2 148.4 626.1 148.1C626.9 147.8 627.7 147.5 628.6 147.3C629.4 147.1 630.2 146.8 631.1 146.6C631.9 146.4 632.7 146.2 633.6 146.0C634.4 145.9 635.2 145.7 636.1 145.6C636.9 145.5 637.7 145.4 638.6 145.3C639.4 145.2 640.2 145.1 641.1 145.1C641.9 145.1 642.7 145.1 643.6 145.1C644.4 145.1 645.2 145.2 646.1 145.3C646.9 145.4 647.7 145.5 648.6 145.6C649.4 145.8 650.2 145.9 651.1 146.2C651.9 146.4 652.7 146.6 653.6 146.9C654.4 147.2 655.3 147.5 656.1 147.9C656.9 148.2 657.8 148.6 658.6 149.1C659.4 149.5 660.3 150.0 661.1 150.5C661.9 151.1 662.8 151.6 663.6 152.2C664.4 152.8 665.3 153.5 666.1 154.2C666.9 154.9 667.8 155.7 668.6 156.5C669.4 157.3 670.3 158.1 671.1 159.0C671.9 159.9 672.8 160.9 673.6 161.9C674.4 162.9 675.3 163.9 676.1 165.0C676.9 166.2 678.2 168.0 678.6 168.5" stroke="#2E75B6" stroke-width="1.90" fill="none" stroke-linejoin="round"/>
<path d="M383.4 168.4C383.8 168.5 385.1 168.8 385.9 169.0C386.7 169.3 387.6 169.5 388.4 169.7C389.2 170.0 390.1 170.2 390.9 170.4C391.7 170.7 392.6 170.9 393.4 171.2C394.2 171.4 395.1 171.7 395.9 171.9C396.7 172.2 397.6 172.5 398.4 172.7C399.2 173.0 400.1 173.3 400.9 173.6C401.7 173.9 402.6 174.2 403.4 174.5C404.2 174.8 405.1 175.1 405.9 175.5C406.7 175.8 407.6 176.1 408.4 176.5C409.3 176.8 410.1 177.2 410.9 177.6C411.8 177.9 412.6 178.3 413.4 178.7C414.3 179.0 415.1 179.4 415.9 179.8C416.8 180.1 417.6 180.5 418.4 180.9C419.3 181.2 420.1 181.6 420.9 181.9C421.8 182.3 422.6 182.6 423.4 183.0C424.3 183.3 425.1 183.7 425.9 184.0C426.8 184.3 427.6 184.6 428.4 185.0C429.3 185.3 430.1 185.6 430.9 185.9C431.8 186.2 432.6 186.4 433.4 186.7C434.3 187.0 435.1 187.3 435.9 187.5C436.8 187.8 437.6 188.0 438.4 188.2C439.3 188.4 440.1 188.6 440.9 188.8C441.8 189.0 442.6 189.2 443.4 189.4C444.3 189.6 445.1 189.7 445.9 189.8C446.8 190.0 447.6 190.1 448.4 190.2C449.3 190.3 450.1 190.4 450.9 190.5C451.8 190.6 452.6 190.6 453.4 190.7C454.3 190.7 455.1 190.7 455.9 190.7C456.8 190.7 457.6 190.7 458.5 190.7C459.3 190.6 460.1 190.6 461.0 190.5C461.8 190.4 462.6 190.4 463.5 190.2C464.3 190.1 465.1 190.0 466.0 189.9C466.8 189.7 467.6 189.5 468.5 189.4C469.3 189.2 470.1 189.0 471.0 188.8C471.8 188.6 472.6 188.4 473.5 188.2C474.3 187.9 475.1 187.7 476.0 187.5C476.8 187.3 477.6 187.0 478.5 186.8C479.3 186.6 480.1 186.4 481.0 186.1C481.8 185.9 482.6 185.7 483.5 185.5C484.3 185.3 485.1 185.1 486.0 184.9C486.8 184.7 487.6 184.5 488.5 184.2C489.3 184.0 490.1 183.8 491.0 183.5C491.8 183.3 492.6 183.0 493.5 182.7C494.3 182.4 495.1 182.0 496.0 181.7C496.8 181.3 497.6 180.9 498.5 180.5C499.3 180.1 500.1 179.7 501.0 179.3C501.8 178.9 502.6 178.4 503.5 178.0C504.3 177.5 505.1 177.1 506.0 176.6C506.8 176.2 507.7 175.7 508.5 175.3C509.3 174.8 510.2 174.3 511.0 173.9C511.8 173.4 512.7 172.9 513.5 172.5C514.3 172.0 515.2 171.5 516.0 171.0C516.8 170.6 517.7 170.1 518.5 169.6C519.3 169.1 520.2 168.7 521.0 168.2C521.8 167.7 522.7 167.2 523.5 166.8C524.3 166.3 525.2 165.8 526.0 165.3C526.8 164.8 527.7 164.4 528.5 163.9C529.3 163.4 530.2 163.0 531.0 162.5C531.8 162.0 532.7 161.6 533.5 161.1C534.3 160.6 535.2 160.2 536.0 159.7C536.8 159.3 537.7 158.8 538.5 158.4C539.3 157.9 540.2 157.5 541.0 157.0C541.8 156.6 542.7 156.2 543.5 155.7C544.3 155.3 545.2 154.9 546.0 154.5C546.8 154.1 547.7 153.7 548.5 153.3C549.3 152.9 550.2 152.5 551.0 152.1C551.8 151.7 552.7 151.3 553.5 150.9C554.3 150.6 555.2 150.2 556.0 149.8C556.9 149.5 557.7 149.1 558.5 148.8C559.4 148.4 560.2 148.1 561.0 147.8C561.9 147.5 562.7 147.2 563.5 146.9C564.4 146.6 565.2 146.3 566.0 146.0C566.9 145.7 567.7 145.4 568.5 145.2C569.4 144.9 570.2 144.7 571.0 144.5C571.9 144.2 572.7 144.0 573.5 143.8C574.4 143.6 575.2 143.4 576.0 143.2C576.9 143.0 577.7 142.9 578.5 142.7C579.4 142.6 580.2 142.4 581.0 142.3C581.9 142.2 582.7 142.1 583.5 142.0C584.4 141.9 585.2 141.8 586.0 141.7C586.9 141.7 587.7 141.6 588.5 141.6C589.4 141.5 590.2 141.5 591.0 141.5C591.9 141.5 592.7 141.6 593.5 141.6C594.4 141.6 595.2 141.7 596.0 141.7C596.9 141.8 597.7 141.9 598.5 142.0C599.4 142.1 600.2 142.2 601.0 142.3C601.9 142.4 602.7 142.5 603.5 142.7C604.4 142.8 605.2 143.0 606.1 143.2C606.9 143.3 607.7 143.5 608.6 143.7C609.4 143.9 610.2 144.1 611.1 144.3C611.9 144.6 612.7 144.8 613.6 145.0C614.4 145.3 615.2 145.5 616.1 145.8C616.9 146.0 617.7 146.3 618.6 146.6C619.4 146.8 620.2 147.1 621.1 147.4C621.9 147.7 622.7 148.0 623.6 148.3C624.4 148.6 625.2 148.9 626.1 149.2C626.9 149.6 627.7 149.9 628.6 150.2C629.4 150.5 630.2 150.9 631.1 151.2C631.9 151.6 632.7 151.9 633.6 152.3C634.4 152.6 635.2 153.0 636.1 153.3C636.9 153.7 637.7 154.0 638.6 154.4C639.4 154.7 640.2 155.1 641.1 155.5C641.9 155.8 642.7 156.2 643.6 156.6C644.4 156.9 645.2 157.3 646.1 157.7C646.9 158.0 647.7 158.4 648.6 158.8C649.4 159.1 650.2 159.5 651.1 159.8C651.9 160.2 652.7 160.6 653.6 160.9C654.4 161.3 655.3 161.6 656.1 161.9C656.9 162.3 657.8 162.6 658.6 162.9C659.4 163.3 660.3 163.6 661.1 163.9C661.9 164.2 662.8 164.5 663.6 164.8C664.4 165.0 665.3 165.3 666.1 165.6C666.9 165.8 667.8 166.1 668.6 166.3C669.4 166.6 670.3 166.8 671.1 167.0C671.9 167.2 672.8 167.4 673.6 167.6C674.4 167.7 675.3 167.9 676.1 168.0C676.9 168.2 678.2 168.4 678.6 168.4" stroke="#7F6000" stroke-width="1.90" fill="none" stroke-linejoin="round"/>
<path d="M383.4 168.5C383.8 168.2 385.1 167.6 385.9 167.1C386.7 166.7 387.6 166.2 388.4 165.8C389.2 165.3 390.1 164.9 390.9 164.4C391.7 164.0 392.6 163.5 393.4 163.1C394.2 162.6 395.1 162.2 395.9 161.7C396.7 161.3 397.6 160.9 398.4 160.4C399.2 160.0 400.1 159.5 400.9 159.1C401.7 158.6 402.6 158.2 403.4 157.8C404.2 157.3 405.1 156.9 405.9 156.5C406.7 156.0 407.6 155.6 408.4 155.2C409.3 154.7 410.1 154.3 410.9 153.9C411.8 153.4 412.6 153.0 413.4 152.6C414.3 152.2 415.1 151.8 415.9 151.4C416.8 150.9 417.6 150.5 418.4 150.1C419.3 149.7 420.1 149.3 420.9 148.9C421.8 148.5 422.6 148.1 423.4 147.7C424.3 147.3 425.1 147.0 425.9 146.6C426.8 146.2 427.6 145.8 428.4 145.5C429.3 145.1 430.1 144.7 430.9 144.4C431.8 144.0 432.6 143.6 433.4 143.3C434.3 142.9 435.1 142.6 435.9 142.2C436.8 141.9 437.6 141.6 438.4 141.2C439.3 140.9 440.1 140.6 440.9 140.3C441.8 140.0 442.6 139.6 443.4 139.3C444.3 139.0 445.1 138.7 445.9 138.4C446.8 138.1 447.6 137.8 448.4 137.6C449.3 137.3 450.1 137.0 450.9 136.7C451.8 136.4 452.6 136.2 453.4 135.9C454.3 135.6 455.1 135.4 455.9 135.1C456.8 134.9 457.6 134.6 458.5 134.4C459.3 134.1 460.1 133.9 461.0 133.7C461.8 133.4 462.6 133.2 463.5 133.0C464.3 132.8 465.1 132.5 466.0 132.3C466.8 132.1 467.6 131.9 468.5 131.7C469.3 131.5 470.1 131.3 471.0 131.1C471.8 130.9 472.6 130.7 473.5 130.6C474.3 130.4 475.1 130.2 476.0 130.0C476.8 129.8 477.6 129.7 478.5 129.5C479.3 129.4 480.1 129.2 481.0 129.1C481.8 128.9 482.6 128.8 483.5 128.6C484.3 128.5 485.1 128.3 486.0 128.2C486.8 128.1 487.6 128.0 488.5 127.8C489.3 127.7 490.1 127.6 491.0 127.5C491.8 127.4 492.6 127.3 493.5 127.2C494.3 127.1 495.1 127.0 496.0 126.9C496.8 126.8 497.6 126.8 498.5 126.7C499.3 126.6 500.1 126.5 501.0 126.5C501.8 126.4 502.6 126.4 503.5 126.3C504.3 126.3 505.1 126.2 506.0 126.2C506.8 126.1 507.7 126.1 508.5 126.1C509.3 126.1 510.2 126.0 511.0 126.0C511.8 126.0 512.7 126.0 513.5 126.0C514.3 126.0 515.2 126.0 516.0 126.0C516.8 126.0 517.7 126.1 518.5 126.1C519.3 126.1 520.2 126.2 521.0 126.2C521.8 126.2 522.7 126.3 523.5 126.3C524.3 126.4 525.2 126.4 526.0 126.5C526.8 126.6 527.7 126.6 528.5 126.7C529.3 126.8 530.2 126.9 531.0 127.0C531.8 127.1 532.7 127.2 533.5 127.3C534.3 127.4 535.2 127.5 536.0 127.6C536.8 127.7 537.7 127.9 538.5 128.0C539.3 128.1 540.2 128.3 541.0 128.4C541.8 128.6 542.7 128.7 543.5 128.9C544.3 129.0 545.2 129.2 546.0 129.4C546.8 129.6 547.7 129.8 548.5 129.9C549.3 130.1 550.2 130.3 551.0 130.5C551.8 130.8 552.7 131.0 553.5 131.2C554.3 131.4 555.2 131.6 556.0 131.9C556.9 132.1 557.7 132.3 558.5 132.6C559.4 132.8 560.2 133.1 561.0 133.3C561.9 133.6 562.7 133.9 563.5 134.1C564.4 134.4 565.2 134.7 566.0 135.0C566.9 135.2 567.7 135.5 568.5 135.8C569.4 136.1 570.2 136.4 571.0 136.7C571.9 137.0 572.7 137.3 573.5 137.6C574.4 137.9 575.2 138.3 576.0 138.6C576.9 138.9 577.7 139.2 578.5 139.6C579.4 139.9 580.2 140.2 581.0 140.6C581.9 140.9 582.7 141.2 583.5 141.6C584.4 141.9 585.2 142.3 586.0 142.6C586.9 143.0 587.7 143.3 588.5 143.7C589.4 144.0 590.2 144.4 591.0 144.8C591.9 145.1 592.7 145.5 593.5 145.9C594.4 146.2 595.2 146.6 596.0 147.0C596.9 147.4 597.7 147.7 598.5 148.1C599.4 148.5 600.2 148.9 601.0 149.3C601.9 149.7 602.7 150.0 603.5 150.4C604.4 150.8 605.2 151.2 606.1 151.6C606.9 152.0 607.7 152.4 608.6 152.8C609.4 153.2 610.2 153.5 611.1 153.9C611.9 154.3 612.7 154.7 613.6 155.1C614.4 155.5 615.2 155.9 616.1 156.3C616.9 156.6 617.7 157.0 618.6 157.4C619.4 157.8 620.2 158.1 621.1 158.5C621.9 158.9 622.7 159.3 623.6 159.6C624.4 160.0 625.2 160.3 626.1 160.7C626.9 161.0 627.7 161.4 628.6 161.7C629.4 162.1 630.2 162.4 631.1 162.7C631.9 163.0 632.7 163.3 633.6 163.7C634.4 164.0 635.2 164.3 636.1 164.6C636.9 164.9 637.7 165.1 638.6 165.4C639.4 165.7 640.2 165.9 641.1 166.2C641.9 166.4 642.7 166.7 643.6 166.9C644.4 167.2 645.2 167.4 646.1 167.6C646.9 167.8 647.7 168.0 648.6 168.2C649.4 168.4 650.2 168.5 651.1 168.7C651.9 168.8 652.7 169.0 653.6 169.1C654.4 169.2 655.3 169.4 656.1 169.5C656.9 169.6 657.8 169.7 658.6 169.7C659.4 169.8 660.3 169.9 661.1 169.9C661.9 170.0 662.8 170.0 663.6 170.0C664.4 170.0 665.3 170.0 666.1 170.0C666.9 170.0 667.8 169.9 668.6 169.9C669.4 169.8 670.3 169.8 671.1 169.7C671.9 169.6 672.8 169.5 673.6 169.3C674.4 169.2 675.3 169.1 676.1 168.9C676.9 168.8 678.2 168.5 678.6 168.4" stroke="#0d0d0d" stroke-width="1.90" fill="none" stroke-linejoin="round"/>
<path d="M383.4 168.3C383.8 168.7 385.1 169.8 385.9 170.5C386.7 171.3 387.6 172.0 388.4 172.7C389.2 173.4 390.1 174.1 390.9 174.8C391.7 175.4 392.6 176.1 393.4 176.8C394.2 177.4 395.1 178.1 395.9 178.7C396.7 179.3 397.6 179.9 398.4 180.5C399.2 181.1 400.1 181.7 400.9 182.2C401.7 182.8 402.6 183.3 403.4 183.9C404.2 184.4 405.1 184.9 405.9 185.4C406.7 185.9 407.6 186.4 408.4 186.8C409.3 187.3 410.1 187.8 410.9 188.2C411.8 188.6 412.6 189.0 413.4 189.4C414.3 189.8 415.1 190.2 415.9 190.5C416.8 190.9 417.6 191.2 418.4 191.5C419.3 191.9 420.1 192.2 420.9 192.4C421.8 192.7 422.6 193.0 423.4 193.2C424.3 193.5 425.1 193.7 425.9 193.9C426.8 194.1 427.6 194.3 428.4 194.4C429.3 194.6 430.1 194.7 430.9 194.8C431.8 194.9 432.6 195.0 433.4 195.1C434.3 195.2 435.1 195.2 435.9 195.2C436.8 195.3 437.6 195.3 438.4 195.2C439.3 195.2 440.1 195.2 440.9 195.1C441.8 195.0 442.6 194.9 443.4 194.8C444.3 194.7 445.1 194.6 445.9 194.4C446.8 194.3 447.6 194.1 448.4 193.9C449.3 193.7 450.1 193.4 450.9 193.2C451.8 192.9 452.6 192.7 453.4 192.4C454.3 192.1 455.1 191.8 455.9 191.4C456.8 191.1 457.6 190.7 458.5 190.4C459.3 190.0 460.1 189.6 461.0 189.2C461.8 188.8 462.6 188.3 463.5 187.9C464.3 187.4 465.1 187.0 466.0 186.5C466.8 186.0 467.6 185.5 468.5 185.0C469.3 184.5 470.1 183.9 471.0 183.4C471.8 182.8 472.6 182.3 473.5 181.7C474.3 181.1 475.1 180.5 476.0 179.9C476.8 179.3 477.6 178.6 478.5 178.0C479.3 177.3 480.1 176.7 481.0 176.0C481.8 175.3 482.6 174.7 483.5 174.0C484.3 173.3 485.1 172.6 486.0 171.8C486.8 171.1 487.6 170.4 488.5 169.6C489.3 168.9 490.1 168.1 491.0 167.4C491.8 166.6 492.6 165.8 493.5 165.0C494.3 164.2 495.1 163.4 496.0 162.6C496.8 161.8 497.6 161.0 498.5 160.2C499.3 159.3 500.1 158.5 501.0 157.7C501.8 156.8 502.6 156.0 503.5 155.1C504.3 154.2 505.1 153.4 506.0 152.5C506.8 151.6 507.7 150.7 508.5 149.9C509.3 149.0 510.2 148.1 511.0 147.2C511.8 146.3 512.7 145.4 513.5 144.5C514.3 143.6 515.2 142.6 516.0 141.7C516.8 140.8 517.7 139.9 518.5 139.0C519.3 138.0 520.2 137.1 521.0 136.2C521.8 135.2 522.7 134.3 523.5 133.4C524.3 132.5 525.2 131.5 526.0 130.6C526.8 129.7 527.7 128.7 528.5 127.8C529.3 126.9 530.2 125.9 531.0 125.0C531.8 124.1 532.7 123.1 533.5 122.2C534.3 121.3 535.2 120.4 536.0 119.5C536.8 118.6 537.7 117.6 538.5 116.7C539.3 115.8 540.2 114.9 541.0 114.0C541.8 113.1 542.7 112.2 543.5 111.4C544.3 110.5 545.2 109.6 546.0 108.7C546.8 107.9 547.7 107.0 548.5 106.2C549.3 105.3 550.2 104.5 551.0 103.6C551.8 102.8 552.7 102.0 553.5 101.2C554.3 100.4 555.2 99.6 556.0 98.8C556.9 98.0 557.7 97.2 558.5 96.4C559.4 95.7 560.2 94.9 561.0 94.2C561.9 93.4 562.7 92.7 563.5 92.0C564.4 91.3 565.2 90.6 566.0 89.9C566.9 89.3 567.7 88.6 568.5 88.0C569.4 87.3 570.2 86.7 571.0 86.1C571.9 85.5 572.7 84.9 573.5 84.3C574.4 83.7 575.2 83.2 576.0 82.6C576.9 82.1 577.7 81.6 578.5 81.1C579.4 80.6 580.2 80.1 581.0 79.7C581.9 79.2 582.7 78.8 583.5 78.4C584.4 78.0 585.2 77.6 586.0 77.2C586.9 76.8 587.7 76.5 588.5 76.2C589.4 75.9 590.2 75.6 591.0 75.3C591.9 75.1 592.7 74.8 593.5 74.6C594.4 74.4 595.2 74.2 596.0 74.1C596.9 73.9 597.7 73.8 598.5 73.7C599.4 73.6 600.2 73.5 601.0 73.5C601.9 73.4 602.7 73.4 603.5 73.4C604.4 73.4 605.2 73.5 606.1 73.6C606.9 73.6 607.7 73.7 608.6 73.9C609.4 74.0 610.2 74.2 611.1 74.4C611.9 74.6 612.7 74.9 613.6 75.1C614.4 75.4 615.2 75.7 616.1 76.1C616.9 76.4 617.7 76.8 618.6 77.2C619.4 77.6 620.2 78.1 621.1 78.6C621.9 79.0 622.7 79.6 623.6 80.1C624.4 80.7 625.2 81.3 626.1 81.9C626.9 82.5 627.7 83.2 628.6 83.8C629.4 84.5 630.2 85.3 631.1 86.0C631.9 86.8 632.7 87.6 633.6 88.4C634.4 89.3 635.2 90.1 636.1 91.0C636.9 91.9 637.7 92.9 638.6 93.8C639.4 94.8 640.2 95.8 641.1 96.9C641.9 97.9 642.7 99.0 643.6 100.1C644.4 101.2 645.2 102.4 646.1 103.6C646.9 104.8 647.7 106.0 648.6 107.3C649.4 108.5 650.2 109.8 651.1 111.2C651.9 112.5 652.7 113.9 653.6 115.3C654.4 116.7 655.3 118.1 656.1 119.6C656.9 121.1 657.8 122.6 658.6 124.2C659.4 125.7 660.3 127.3 661.1 128.9C661.9 130.6 662.8 132.2 663.6 133.9C664.4 135.7 665.3 137.4 666.1 139.2C666.9 140.9 667.8 142.8 668.6 144.6C669.4 146.5 670.3 148.4 671.1 150.3C671.9 152.2 672.8 154.2 673.6 156.2C674.4 158.2 675.3 160.2 676.1 162.3C676.9 164.4 678.2 167.6 678.6 168.7" stroke="#C00000" stroke-width="1.90" fill="none" stroke-linejoin="round"/>
<path d="M383.4 168.5C383.8 168.0 385.1 166.4 385.9 165.3C386.7 164.2 387.6 163.1 388.4 162.0C389.2 160.8 390.1 159.7 390.9 158.6C391.7 157.4 392.6 156.3 393.4 155.1C394.2 153.9 395.1 152.8 395.9 151.6C396.7 150.4 397.6 149.2 398.4 148.1C399.2 146.9 400.1 145.7 400.9 144.5C401.7 143.3 402.6 142.1 403.4 140.9C404.2 139.7 405.1 138.5 405.9 137.3C406.7 136.1 407.6 135.0 408.4 133.8C409.3 132.6 410.1 131.4 410.9 130.2C411.8 129.1 412.6 127.9 413.4 126.7C414.3 125.6 415.1 124.4 415.9 123.3C416.8 122.1 417.6 121.0 418.4 119.9C419.3 118.7 420.1 117.6 420.9 116.5C421.8 115.4 422.6 114.4 423.4 113.3C424.3 112.2 425.1 111.1 425.9 110.1C426.8 109.0 427.6 108.0 428.4 106.9C429.3 105.9 430.1 104.8 430.9 103.8C431.8 102.8 432.6 101.8 433.4 100.8C434.3 99.8 435.1 98.7 435.9 97.8C436.8 96.8 437.6 95.8 438.4 94.8C439.3 93.8 440.1 92.9 440.9 91.9C441.8 91.0 442.6 90.0 443.4 89.1C444.3 88.2 445.1 87.3 445.9 86.4C446.8 85.5 447.6 84.6 448.4 83.7C449.3 82.9 450.1 82.0 450.9 81.2C451.8 80.3 452.6 79.5 453.4 78.7C454.3 77.9 455.1 77.1 455.9 76.3C456.8 75.5 457.6 74.7 458.5 74.0C459.3 73.2 460.1 72.5 461.0 71.7C461.8 71.0 462.6 70.2 463.5 69.5C464.3 68.8 465.1 68.1 466.0 67.4C466.8 66.7 467.6 66.0 468.5 65.3C469.3 64.6 470.1 64.0 471.0 63.3C471.8 62.6 472.6 62.0 473.5 61.3C474.3 60.7 475.1 60.0 476.0 59.4C476.8 58.8 477.6 58.1 478.5 57.5C479.3 56.9 480.1 56.3 481.0 55.7C481.8 55.0 482.6 54.4 483.5 53.8C484.3 53.2 485.1 52.6 486.0 52.1C486.8 51.5 487.6 50.9 488.5 50.3C489.3 49.7 490.1 49.2 491.0 48.6C491.8 48.1 492.6 47.5 493.5 47.0C494.3 46.4 495.1 45.9 496.0 45.4C496.8 44.9 497.6 44.3 498.5 43.8C499.3 43.3 500.1 42.8 501.0 42.3C501.8 41.9 502.6 41.4 503.5 40.9C504.3 40.5 505.1 40.0 506.0 39.6C506.8 39.1 507.7 38.7 508.5 38.3C509.3 37.8 510.2 37.4 511.0 37.0C511.8 36.6 512.7 36.3 513.5 35.9C514.3 35.5 515.2 35.2 516.0 34.8C516.8 34.5 517.7 34.1 518.5 33.8C519.3 33.5 520.2 33.2 521.0 32.9C521.8 32.6 522.7 32.3 523.5 32.1C524.3 31.8 525.2 31.6 526.0 31.3C526.8 31.1 527.7 30.9 528.5 30.7C529.3 30.5 530.2 30.3 531.0 30.1C531.8 30.0 532.7 29.8 533.5 29.7C534.3 29.5 535.2 29.4 536.0 29.3C536.8 29.2 537.7 29.1 538.5 29.0C539.3 28.9 540.2 28.9 541.0 28.8C541.8 28.8 542.7 28.7 543.5 28.7C544.3 28.7 545.2 28.7 546.0 28.8C546.8 28.8 547.7 28.8 548.5 28.9C549.3 28.9 550.2 29.0 551.0 29.1C551.8 29.2 552.7 29.3 553.5 29.4C554.3 29.6 555.2 29.7 556.0 29.9C556.9 30.1 557.7 30.2 558.5 30.4C559.4 30.6 560.2 30.8 561.0 31.1C561.9 31.3 562.7 31.5 563.5 31.8C564.4 32.1 565.2 32.3 566.0 32.6C566.9 32.9 567.7 33.2 568.5 33.5C569.4 33.9 570.2 34.2 571.0 34.6C571.9 34.9 572.7 35.3 573.5 35.6C574.4 36.0 575.2 36.4 576.0 36.8C576.9 37.2 577.7 37.6 578.5 38.1C579.4 38.5 580.2 38.9 581.0 39.4C581.9 39.8 582.7 40.3 583.5 40.8C584.4 41.3 585.2 41.8 586.0 42.3C586.9 42.8 587.7 43.3 588.5 43.8C589.4 44.3 590.2 44.9 591.0 45.4C591.9 45.9 592.7 46.5 593.5 47.1C594.4 47.6 595.2 48.2 596.0 48.8C596.9 49.4 597.7 50.0 598.5 50.6C599.4 51.2 600.2 51.8 601.0 52.5C601.9 53.1 602.7 53.8 603.5 54.4C604.4 55.1 605.2 55.8 606.1 56.5C606.9 57.2 607.7 57.9 608.6 58.6C609.4 59.3 610.2 60.1 611.1 60.8C611.9 61.6 612.7 62.4 613.6 63.2C614.4 63.9 615.2 64.8 616.1 65.6C616.9 66.4 617.7 67.3 618.6 68.2C619.4 69.0 620.2 69.9 621.1 70.9C621.9 71.8 622.7 72.7 623.6 73.7C624.4 74.7 625.2 75.6 626.1 76.7C626.9 77.7 627.7 78.7 628.6 79.8C629.4 80.9 630.2 81.9 631.1 83.1C631.9 84.2 632.7 85.3 633.6 86.5C634.4 87.7 635.2 88.8 636.1 90.1C636.9 91.3 637.7 92.5 638.6 93.8C639.4 95.0 640.2 96.3 641.1 97.6C641.9 98.9 642.7 100.2 643.6 101.6C644.4 102.9 645.2 104.3 646.1 105.7C646.9 107.1 647.7 108.5 648.6 109.9C649.4 111.3 650.2 112.8 651.1 114.2C651.9 115.7 652.7 117.2 653.6 118.7C654.4 120.2 655.3 121.7 656.1 123.3C656.9 124.8 657.8 126.3 658.6 127.9C659.4 129.5 660.3 131.1 661.1 132.7C661.9 134.3 662.8 135.9 663.6 137.6C664.4 139.2 665.3 140.9 666.1 142.5C666.9 144.2 667.8 145.9 668.6 147.6C669.4 149.3 670.3 151.0 671.1 152.7C671.9 154.4 672.8 156.2 673.6 157.9C674.4 159.7 675.3 161.5 676.1 163.2C676.9 165.0 678.2 167.7 678.6 168.6" stroke="#203864" stroke-width="1.90" fill="none" stroke-linejoin="round"/>
<rect x="383.40" y="19.50" width="295.20" height="198.80" class="ax"/>
<rect x="498.70" y="182.60" width="177.50" height="31.10" class="lg"/>
<line x1="503.30" y1="190.10" x2="519.90" y2="190.10" stroke="#203864" stroke-width="1.8"/>
<text x="521.30" y="193.20" class="t lt">Mode(1)</text>
<line x1="562.30" y1="190.10" x2="578.90" y2="190.10" stroke="#C00000" stroke-width="1.8"/>
<text x="580.30" y="193.20" class="t lt">Mode(2)</text>
<line x1="621.30" y1="190.10" x2="637.90" y2="190.10" stroke="#0d0d0d" stroke-width="1.8"/>
<text x="639.30" y="193.20" class="t lt">Mode(3)</text>
<line x1="503.30" y1="205.90" x2="519.90" y2="205.90" stroke="#7F6000" stroke-width="1.8"/>
<text x="521.30" y="209.00" class="t lt">Mode(4)</text>
<line x1="562.30" y1="205.90" x2="578.90" y2="205.90" stroke="#2E75B6" stroke-width="1.8"/>
<text x="580.30" y="209.00" class="t lt">Mode(5)</text>
<line x1="621.30" y1="205.90" x2="637.90" y2="205.90" stroke="#548235" stroke-width="1.8"/>
<text x="639.30" y="209.00" class="t lt">Mode(6)</text>
<text transform="translate(375.00 22.95) scale(0.890 1)" class="t tk" text-anchor="end">1.2</text>
<text transform="translate(375.00 47.80) scale(0.890 1)" class="t tk" text-anchor="end">1.0</text>
<text transform="translate(375.00 72.65) scale(0.890 1)" class="t tk" text-anchor="end">0.8</text>
<text transform="translate(375.00 97.50) scale(0.890 1)" class="t tk" text-anchor="end">0.6</text>
<text transform="translate(375.00 122.35) scale(0.890 1)" class="t tk" text-anchor="end">0.4</text>
<text transform="translate(375.00 147.20) scale(0.890 1)" class="t tk" text-anchor="end">0.2</text>
<text transform="translate(375.00 172.05) scale(0.890 1)" class="t tk" text-anchor="end">0.0</text>
<text transform="translate(375.00 196.90) scale(0.890 1)" class="t tk" text-anchor="end">-0.2</text>
<text transform="translate(375.00 221.75) scale(0.890 1)" class="t tk" text-anchor="end">-0.4</text>
<text transform="translate(383.40 233.60) scale(0.890 1)" class="t tk" text-anchor="middle">0.0</text>
<text transform="translate(413.00 233.60) scale(0.890 1)" class="t tk" text-anchor="middle">0.1</text>
<text transform="translate(442.20 233.60) scale(0.890 1)" class="t tk" text-anchor="middle">0.2</text>
<text transform="translate(472.30 233.60) scale(0.890 1)" class="t tk" text-anchor="middle">0.3</text>
<text transform="translate(501.40 233.60) scale(0.890 1)" class="t tk" text-anchor="middle">0.4</text>
<text transform="translate(531.20 233.60) scale(0.890 1)" class="t tk" text-anchor="middle">0.5</text>
<text transform="translate(560.30 233.60) scale(0.890 1)" class="t tk" text-anchor="middle">0.6</text>
<text transform="translate(589.45 233.60) scale(0.890 1)" class="t tk" text-anchor="middle">0.7</text>
<text transform="translate(619.30 233.60) scale(0.890 1)" class="t tk" text-anchor="middle">0.8</text>
<text transform="translate(648.40 233.60) scale(0.890 1)" class="t tk" text-anchor="middle">0.9</text>
<text transform="translate(678.60 233.60) scale(0.890 1)" class="t tk" text-anchor="middle">1.0</text>
<text x="199" y="243.8" class="gr" text-anchor="middle">&#958;</text>
<text x="546.8" y="240.0" class="gr2" text-anchor="middle">&#951;</text>
</svg>
</body></html>
